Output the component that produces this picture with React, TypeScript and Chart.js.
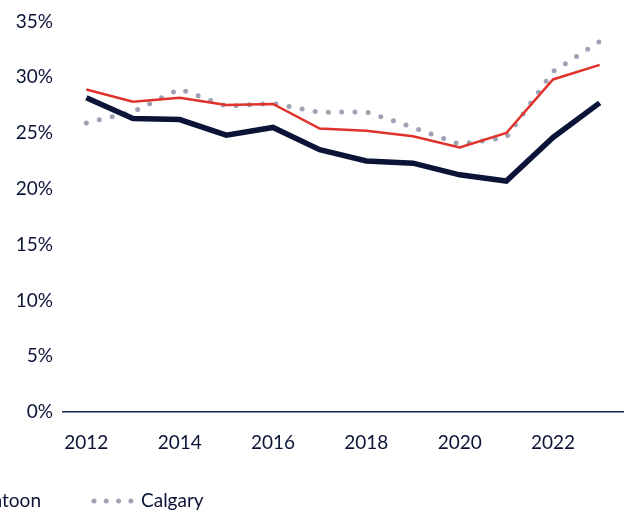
import React, { useEffect, useRef } from "react";
import { Chart, registerables } from "chart.js";

Chart.register(...registerables);

const years = ["2012", "2013", "2014", "2015", "2016", "2017", "2018", "2019", "2020", "2021", "2022", "2023"];
const regina = [28.15, 26.3, 26.2, 24.8, 25.5, 23.5, 22.5, 22.3, 21.25, 20.7, 24.6, 27.7];
const saskatoon = [28.9, 27.8, 28.15, 27.5, 27.6, 25.4, 25.2, 24.7, 23.7, 25.0, 29.8, 31.1];
const calgary = [25.9, 26.9, 28.95, 27.4, 27.65, 26.85, 26.9, 25.5, 24.0, 24.6, 30.5, 33.2];
const seriesNames = ["Regina", "Saskatoon", "Calgary"];

const NAVY = "#0b1437";
const RED = "#e0322b";
const GREY = "#9ea2b4";
const FONT = "Lato, 'Open Sans', sans-serif";

const legendPlugin = {
  id: "croppedLegend",
  afterDraw(chart: any) {
    const ctx = chart.ctx;
    const y = 501;
    ctx.save();
    ctx.font = `19px ${FONT}`;
    ctx.textBaseline = "middle";
    ctx.fillStyle = NAVY;
    const sampleW = 38;
    const gapSampleText = 11;
    const gapItems = 51;
    const items = chart.data.datasets.map((d: any) => ({
      label: d.label,
      color: d.borderColor,
      width: d.borderWidth,
      dash: d.borderDash,
    }));
    const positions: number[] = [];
    let x = 92;
    positions[items.length - 1] = x;
    for (let i = items.length - 2; i >= 0; i--) {
      const tw = ctx.measureText(items[i].label).width;
      x = x - gapItems - tw - gapSampleText - sampleW;
      positions[i] = x;
    }
    items.forEach((it: any, i: number) => {
      const sx = positions[i];
      ctx.beginPath();
      ctx.strokeStyle = it.color;
      ctx.lineWidth = it.width;
      if (it.dash && it.dash.length) {
        ctx.setLineDash([0, 12.3]);
        ctx.lineCap = "round";
        ctx.moveTo(sx + 2, y);
        ctx.lineTo(sx + sampleW + 1, y);
      } else {
        ctx.setLineDash([]);
        ctx.lineCap = "butt";
        ctx.moveTo(sx, y);
        ctx.lineTo(sx + sampleW, y);
      }
      ctx.stroke();
      ctx.fillStyle = NAVY;
      ctx.fillText(it.label, sx + sampleW + gapSampleText, y);
    });
    ctx.restore();
  },
};

export default function App() {
  const ref = useRef<HTMLCanvasElement | null>(null);
  useEffect(() => {
    if (!ref.current) return;
    const chart = new Chart(ref.current, {
      type: "line",
      data: {
        labels: years,
        datasets: [
          {
            label: seriesNames[0],
            data: regina,
            borderColor: NAVY,
            backgroundColor: NAVY,
            borderWidth: 5.5,
            pointRadius: 0,
            tension: 0,
            borderJoinStyle: "miter",
            order: 1,
          },
          {
            label: seriesNames[1],
            data: saskatoon,
            borderColor: RED,
            backgroundColor: RED,
            borderWidth: 2.5,
            pointRadius: 0,
            tension: 0,
            order: 2,
          },
          {
            label: seriesNames[2],
            data: calgary,
            borderColor: GREY,
            backgroundColor: GREY,
            borderWidth: 5,
            borderDash: [0, 13.3],
            borderCapStyle: "round",
            pointRadius: 0,
            tension: 0,
            order: 3,
          },
        ],
      },
      options: {
        responsive: true,
        maintainAspectRatio: false,
        animation: false,
        layout: { padding: { left: 0, right: 5, top: 20, bottom: 64 } },
        plugins: {
          legend: { display: false },
          tooltip: { enabled: false },
        },
        scales: {
          x: {
            offset: true,
            grid: { display: false, drawTicks: false },
            border: { display: true, color: "#1a2350", width: 1.5 },
            ticks: {
              color: NAVY,
              font: { family: FONT, size: 19 },
              padding: 19,
              maxRotation: 0,
              autoSkip: false,
              callback: (_v: any, i: number) => (i % 2 === 0 ? years[i] : ""),
            },
            afterFit: (s: any) => {
              s.height = 40;
            },
          },
          y: {
            min: 0,
            max: 35,
            grid: { display: false, drawTicks: false },
            border: { display: false },
            ticks: {
              stepSize: 5,
              color: NAVY,
              font: { family: FONT, size: 19 },
              padding: 10,
              callback: (v: any) => `${v}%`,
            },
            afterFit: (s: any) => {
              s.width = 63;
            },
          },
        },
      },
      plugins: [legendPlugin],
    });
    return () => chart.destroy();
  }, []);
  return (
    <div style={{ position: "fixed", left: 0, top: 0, width: 628, height: 516 }}>
      <canvas ref={ref} />
    </div>
  );
}
